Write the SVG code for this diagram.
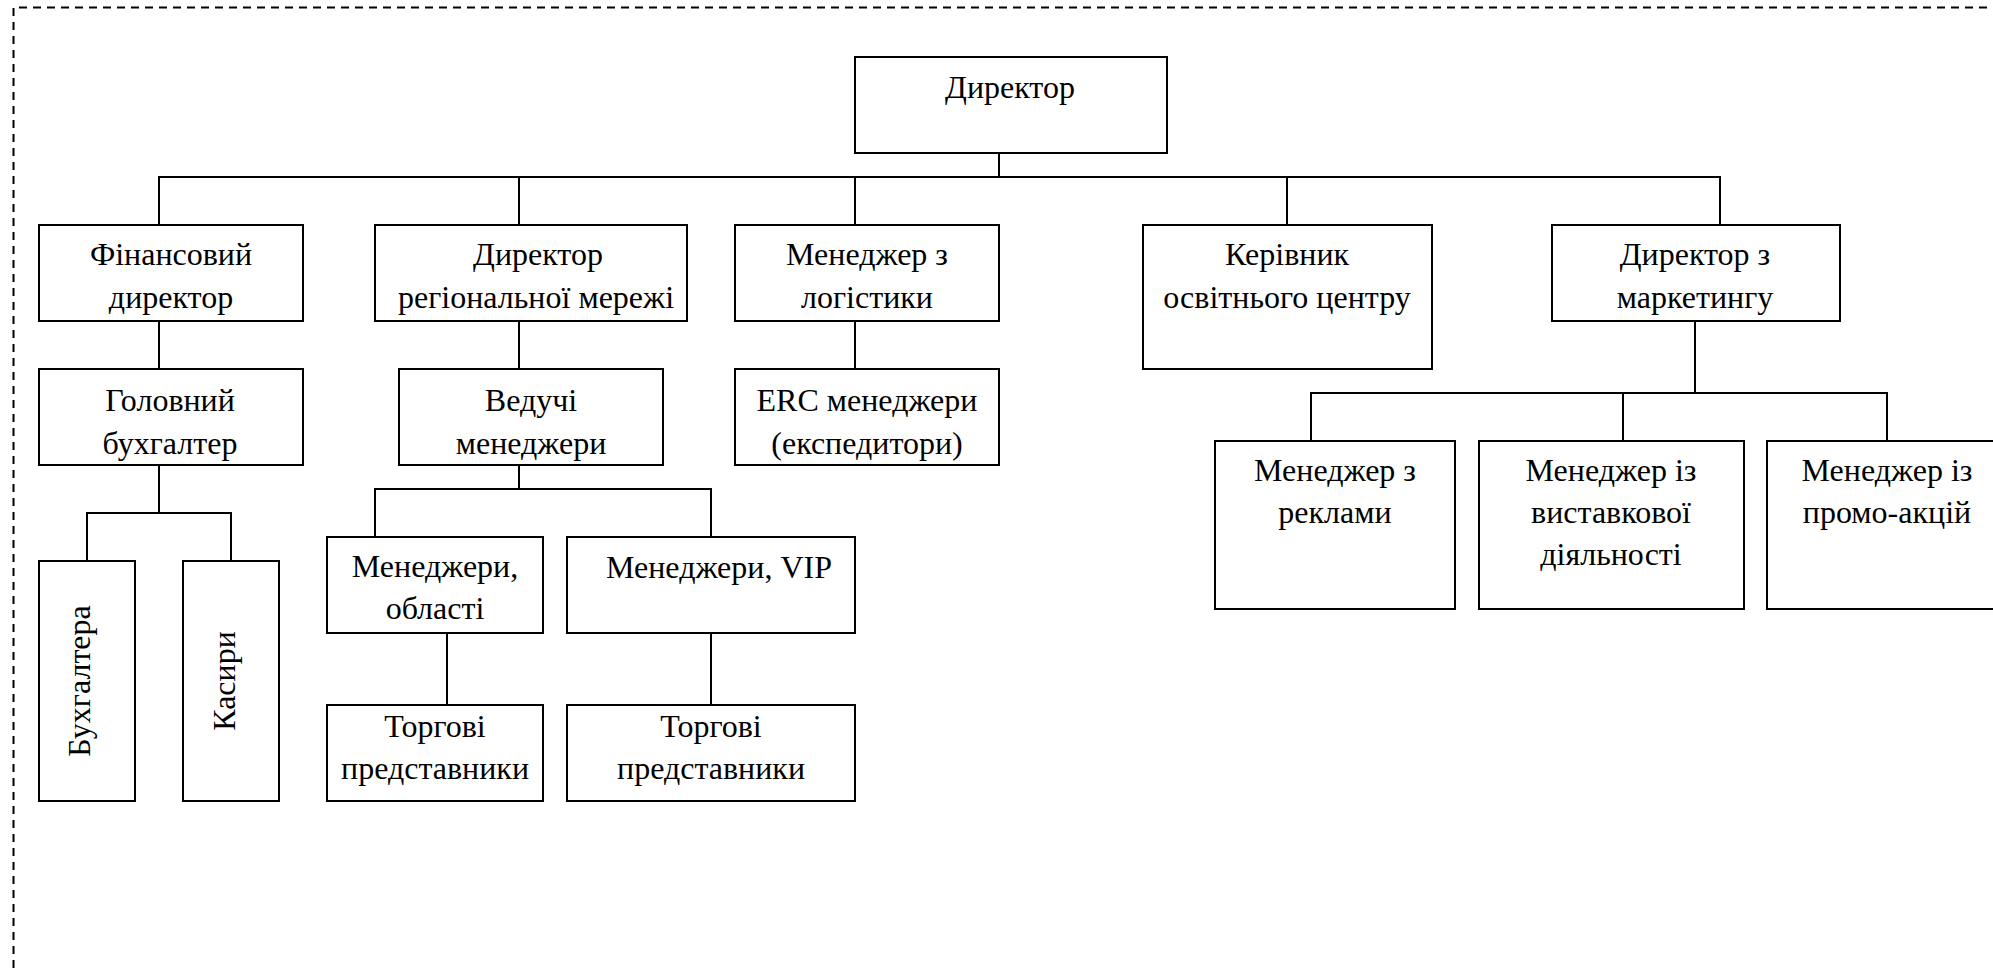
<svg xmlns="http://www.w3.org/2000/svg" width="1993" height="968" viewBox="0 0 1993 968">
  <style>
    .box { fill: #fff; stroke: #000; stroke-width: 2; }
    .lbl { font-family: "Liberation Serif", "Times New Roman", serif; font-size: 32px; fill: #000; text-anchor: middle; }
    .wire { fill: none; stroke: #000; stroke-width: 2; }
    .frame { fill: none; stroke: #000; stroke-width: 2; stroke-dasharray: 8 6; }
  </style>
  <defs>
    <!-- text in the second-row boxes is cut just above the bottom border -->
    <clipPath id="row2clip">
      <rect x="0" y="369" width="1100" height="92"/>
    </clipPath>
  </defs>
  <rect width="1993" height="968" fill="#fff"/>

  <!-- dashed outer frame (top and left edges) -->
  <path class="frame" d="M13.5 968 V7.5 H1993"/>

  <!-- connectors -->
  <g id="connectors">
    <path class="wire" d="M999 153 V177"/>
    <path class="wire" d="M159 225 V177 H1720 V225"/>
    <path class="wire" d="M519 177 V225 M855 177 V225 M1287 177 V225"/>
    <path class="wire" d="M159 321 V369"/>
    <path class="wire" d="M159 465 V513 M87 561 V513 H231 V561"/>
    <path class="wire" d="M519 321 V369"/>
    <path class="wire" d="M519 465 V489 M375 537 V489 H711 V537"/>
    <path class="wire" d="M447 633 V705"/>
    <path class="wire" d="M711 633 V705"/>
    <path class="wire" d="M855 321 V369"/>
    <path class="wire" d="M1695 321 V393 M1311 441 V393 H1887 V441 M1623 393 V441"/>
  </g>

  <g id="director">
    <rect class="box" x="855" y="57" width="312" height="96"/>
    <text class="lbl" x="1010" y="98">Директор</text>
  </g>

  <g id="fin-director">
    <rect class="box" x="39" y="225" width="264" height="96"/>
    <text class="lbl" x="171" y="265">Фінансовий</text>
    <text class="lbl" x="171" y="308">директор</text>
  </g>

  <g id="regional-director">
    <rect class="box" x="375" y="225" width="312" height="96"/>
    <text class="lbl" x="538" y="265">Директор</text>
    <text class="lbl" x="536" y="308">регіональної мережі</text>
  </g>

  <g id="logistics-manager">
    <rect class="box" x="735" y="225" width="264" height="96"/>
    <text class="lbl" x="867" y="265">Менеджер з</text>
    <text class="lbl" x="867" y="308">логістики</text>
  </g>

  <g id="education-head">
    <rect class="box" x="1143" y="225" width="289" height="144"/>
    <text class="lbl" x="1287" y="265">Керівник</text>
    <text class="lbl" x="1287" y="308">освітнього центру</text>
  </g>

  <g id="marketing-director">
    <rect class="box" x="1552" y="225" width="288" height="96"/>
    <text class="lbl" x="1695" y="265">Директор з</text>
    <text class="lbl" x="1695" y="308">маркетингу</text>
  </g>

  <g id="chief-accountant">
    <rect class="box" x="39" y="369" width="264" height="96"/>
    <g clip-path="url(#row2clip)">
      <text class="lbl" x="170" y="411">Головний</text>
      <text class="lbl" x="170" y="454">бухгалтер</text>
    </g>
  </g>

  <g id="lead-managers">
    <rect class="box" x="399" y="369" width="264" height="96"/>
    <g clip-path="url(#row2clip)">
      <text class="lbl" x="531" y="411">Ведучі</text>
      <text class="lbl" x="531" y="454">менеджери</text>
    </g>
  </g>

  <g id="erc-managers">
    <rect class="box" x="735" y="369" width="264" height="96"/>
    <g clip-path="url(#row2clip)">
      <text class="lbl" x="867" y="411">ERC менеджери</text>
      <text class="lbl" x="867" y="454">(експедитори)</text>
    </g>
  </g>

  <g id="accountants">
    <rect class="box" x="39" y="561" width="96" height="240"/>
    <text class="lbl" transform="translate(90 681) rotate(-90)">Бухгалтера</text>
  </g>

  <g id="cashiers">
    <rect class="box" x="183" y="561" width="96" height="240"/>
    <text class="lbl" transform="translate(235 681) rotate(-90)">Касири</text>
  </g>

  <g id="region-managers">
    <rect class="box" x="327" y="537" width="216" height="96"/>
    <text class="lbl" x="435" y="577">Менеджери,</text>
    <text class="lbl" x="435" y="619">області</text>
  </g>

  <g id="vip-managers">
    <rect class="box" x="567" y="537" width="288" height="96"/>
    <text class="lbl" x="719" y="578">Менеджери, VIP</text>
  </g>

  <g id="sales-reps-1">
    <rect class="box" x="327" y="705" width="216" height="96"/>
    <text class="lbl" x="435" y="737">Торгові</text>
    <text class="lbl" x="435" y="779">представники</text>
  </g>

  <g id="sales-reps-2">
    <rect class="box" x="567" y="705" width="288" height="96"/>
    <text class="lbl" x="711" y="737">Торгові</text>
    <text class="lbl" x="711" y="779">представники</text>
  </g>

  <g id="ad-manager">
    <rect class="box" x="1215" y="441" width="240" height="168"/>
    <text class="lbl" x="1335" y="481">Менеджер з</text>
    <text class="lbl" x="1335" y="523">реклами</text>
  </g>

  <g id="exhibition-manager">
    <rect class="box" x="1479" y="441" width="265" height="168"/>
    <text class="lbl" x="1611" y="481">Менеджер із</text>
    <text class="lbl" x="1611" y="523">виставкової</text>
    <text class="lbl" x="1611" y="565">діяльності</text>
  </g>

  <g id="promo-manager">
    <rect class="box" x="1767" y="441" width="250" height="168"/>
    <text class="lbl" x="1887" y="481">Менеджер із</text>
    <text class="lbl" x="1887" y="523">промо-акцій</text>
  </g>
</svg>
